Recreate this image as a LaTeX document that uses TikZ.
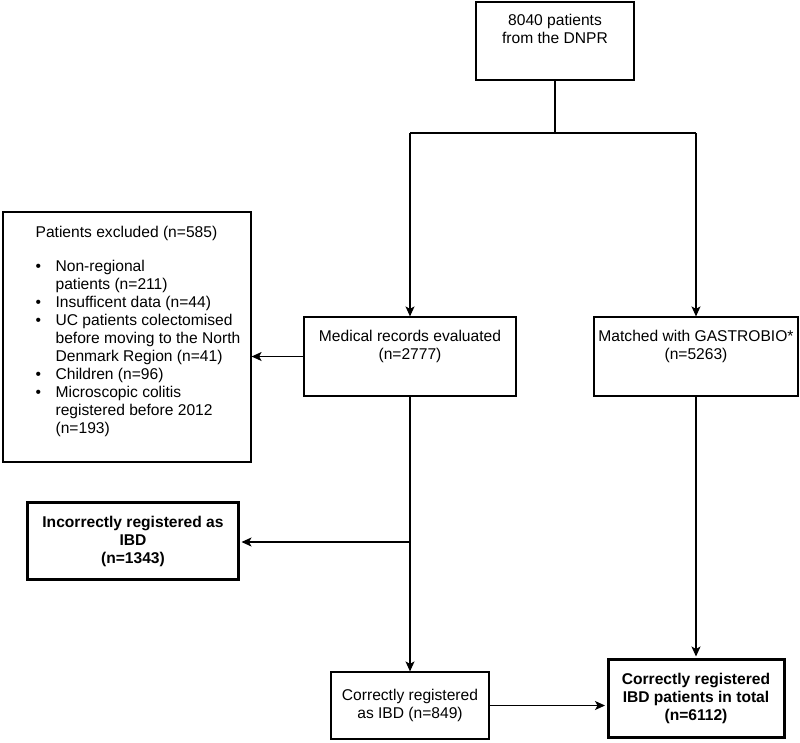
\documentclass[tikz,border=0pt]{standalone}
\usepackage{fontspec}
\setmainfont{Liberation Sans}
\usetikzlibrary{arrows.meta,calc}

\newcommand{\flowfont}{\fontsize{15.6}{18}\selectfont}
\newcommand{\itm}{\textbullet}

\begin{document}
\begin{tikzpicture}[x=1pt, y=-1pt, line width=1.2pt,
    >={Stealth[length=10pt,width=9pt,inset=2.5pt]},
    box/.style={draw, inner sep=0pt},
    boldbox/.style={draw, line width=3pt, inner sep=0pt, align=center, font=\flowfont\bfseries},
    txt/.style={inner sep=0pt, align=center, font=\flowfont},
    listtxt/.style={inner sep=0pt, font=\flowfont}]
    \useasboundingbox (0,0) rectangle (800,742);

    % Draw top box (text anchored at the base of its last line)
    \node[box, minimum width=158, minimum height=78] (dnpr) at (555,41) {};
    \node[txt, anchor=base] (dnprtxt) at (555,43.6) {8040 patients\\from the DNPR};

    % Draw the two branches
    \node[box, minimum width=212, minimum height=79] (medical) at (410,356.5) {};
    \node[txt, anchor=base] (medicaltxt) at (410,359.5) {Medical records evaluated\\(n=2777)};
    \node[box, minimum width=204, minimum height=79] (gastro) at (696,356.5) {};
    \node[txt, anchor=base] (gastrotxt) at (696,359.5) {Matched with GASTROBIO*\\(n=5263)};

    % Draw excluded patients
    \node[box, minimum width=248, minimum height=250] (excluded) at (127,337) {};
    \node[listtxt, anchor=base west] (excludedtitle) at (35,237.5) {Patients excluded (n=585)};
    \node[listtxt, anchor=base west] (excludedlist) at (35,271.6) {%
        \begin{tabular}[t]{@{}p{20pt}@{}l@{}}
            \itm & Non-regional\\
                 & patients (n=211)\\
            \itm & Insufficent data (n=44)\\
            \itm & UC patients colectomised\\
                 & before moving to the North\\
                 & Denmark Region (n=41)\\
            \itm & Children (n=96)\\
            \itm & Microscopic colitis\\
                 & registered before 2012\\
                 & (n=193)
        \end{tabular}};

    % Draw result boxes
    \node[boldbox, minimum width=211, minimum height=77] (incorrect) at (133,541) {Incorrectly registered as\\IBD\\(n=1343)};
    \node[box, txt, minimum width=158, minimum height=67] (correct) at (410,705.5) {Correctly registered\\as IBD (n=849)};
    \node[boldbox, minimum width=176, minimum height=78] (total) at (696,698.5) {Correctly registered\\IBD patients in total\\(n=6112)};

    % Draw connectors
    \coordinate (split) at (555,133);
    \coordinate (splitleft) at (410,133);
    \coordinate (splitright) at (696,133);
    \coordinate (branch) at (410,542);
    \draw (dnpr.south) -- (split);
    \draw (splitleft) -- (splitright);
    \draw[->] (splitleft) -- (medical.north);
    \draw[->] (splitright) -- (gastro.north);
    \draw[->] (medical.west) -- (medical.west -| excluded.east);
    \draw (medical.south) -- (branch);
    \draw[->, shorten >=1.5pt] (branch) -- (branch -| incorrect.east);
    \draw[->] (branch) -- (correct.north);
    \draw[->, shorten >=1.5pt] (gastro.south) -- (total.north);
    \draw[->, shorten >=1.5pt] (correct.east) -- (correct.east -| total.west);
\end{tikzpicture}
\end{document}
